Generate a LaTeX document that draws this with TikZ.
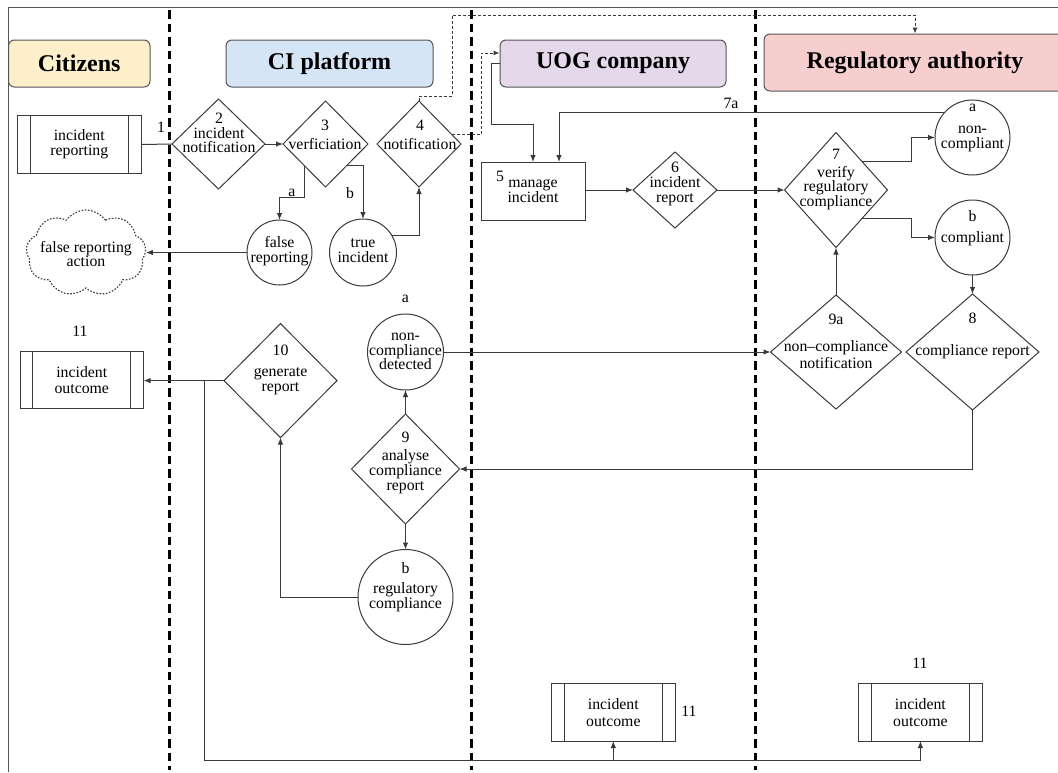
\documentclass[tikz,border=0pt]{standalone}
\usepackage{fontspec}
\setmainfont{Liberation Serif}
\usetikzlibrary{shapes.geometric,shapes.symbols,arrows.meta,calc}

\definecolor{lineC}{HTML}{3A3A3A}
\definecolor{frameC}{HTML}{555555}
\definecolor{citC}{HTML}{FCEFC9}
\definecolor{ciC}{HTML}{D5E5F6}
\definecolor{uogC}{HTML}{E4D8EA}
\definecolor{regC}{HTML}{F6CECE}

\newcommand{\bodyfont}{\fontsize{15.8}{14.8}\selectfont}

\tikzset{
  txt/.style={font=\bodyfont, align=center, inner sep=0pt},
  hdr/.style={draw=frameC, line width=1pt, rounded corners=6pt,
    font=\fontsize{24}{26}\selectfont\bfseries},
  dia/.style={diamond, draw=lineC, line width=1pt, inner sep=0pt, outer sep=0pt},
  circ/.style={circle, draw=lineC, line width=1pt, inner sep=0pt, outer sep=0pt},
  rbox/.style={rectangle, draw=lineC, line width=1pt, inner sep=0pt, outer sep=0pt,
    font=\bodyfont, align=center},
  proc/.style={rbox, minimum width=123.5pt, minimum height=57.5pt,
    path picture={\draw[lineC, line width=1pt]
      ([xshift=12.8pt]path picture bounding box.north west) --
      ([xshift=12.8pt]path picture bounding box.south west)
      ([xshift=-12.8pt]path picture bounding box.north east) --
      ([xshift=-12.8pt]path picture bounding box.south east);}},
  conn/.style={draw=lineC, line width=1pt},
  arr/.style={conn, -{Latex[length=7pt,width=5.5pt]}},
  dsh/.style={draw=lineC, line width=1pt, dash pattern=on 3pt off 2pt,
    -{Latex[length=6pt,width=5pt]}},
  lane/.style={draw=black, line width=3pt, dash pattern=on 8.5pt off 5pt},
}

\begin{document}
\begin{tikzpicture}[x=1pt, y=-1pt]
\useasboundingbox (0,0) rectangle (1058,772);

% outer frame
\draw[frameC, line width=1.2pt] (8.5,772) -- (8.5,7.4) -- (1058,7.4);

% lane separators
\draw[lane] (169,10) -- (169,770);
\draw[lane] (471.5,10) -- (471.5,770);
\draw[lane] (755,10) -- (755,770);

% lane headers
\node[hdr, fill=citC, minimum width=141.5pt, minimum height=47pt] (hc) at (79.25,63.5) {Citizens};
\node[hdr, fill=ciC, minimum width=207pt, minimum height=47pt] (hci) at (329.5,63.5) {CI platform};
\node[hdr, fill=uogC, minimum width=226pt, minimum height=47pt] (hu) at (613,63.5) {UOG company};
\node[hdr, fill=regC, minimum width=302pt, minimum height=57pt] (hr) at (915,62.5) {Regulatory authority};

% ---------- Citizens / CI platform ----------
\node[proc] (b1) at (79.3,144.5) {incident\\reporting};
\node[txt] at (161,127) {1};

\node[dia, minimum width=93pt, minimum height=90pt] (d2) at (218.5,144) {};
\node[txt] at (219,133) {2\\incident\\notification};

\node[dia, minimum width=85pt, minimum height=86pt] (d3) at (325.5,144) {};
\node[txt] at (325,135) {3\\[4pt]verficiation};

\node[dia, minimum width=84pt, minimum height=86pt] (d4) at (419,144) {};
\node[txt] at (420,135) {4\\[4pt]notification};

\node[circ, minimum size=65pt] (fr) at (279.5,252.5) {};
\node[txt] at (279.5,251) {false\\reporting};

\node[circ, minimum size=67pt] (ti) at (363,252.5) {};
\node[txt] at (363,251) {true\\incident};

\node[cloud, cloud puffs=9, cloud puff arc=110, aspect=1.4, draw=lineC, line width=1.1pt,
  dash pattern=on 1.6pt off 1.6pt, inner sep=0pt, minimum width=120pt, minimum height=86pt] (cl) at (86,253) {};
\node[txt] at (86,254) {false reporting\\action};

\node[txt] at (292,193) {a};
\node[txt] at (350,193) {b};

\draw[conn] (b1.east) -- (d2.west);
\draw[arr] (d2.east) -- (d3.west);
\draw[arr] (d3.south west) -- ++(0,32) -| (fr.north);
\draw[arr] (d3.south east) -| (ti.north);
\draw[arr] (ti.30) -| (d4.south);
\draw[arr] (fr.west) -- (fr.west -| cl.east);

% notifications sent onwards
\coordinate (topway) at (0,15);
\draw[dsh] (d4.north) |- (452,96) |- (hr.north |- topway) -- (hr.north);
\draw[dsh] ($(d4.east)!0.21!(d4.north)$) -- ++(29,0) |- ($(hu.west)+(0,-10.5)$);

% ---------- UOG company ----------
\node[rbox, minimum width=104pt, minimum height=58pt] (b5) at (533,191) {manage\\incident};
\node[txt] at (500,176) {5};
\draw[arr] (hu.west) -- ++(-8,0) |- ($(b5.north)+(0,-38)$) -- (b5.north);

\node[dia, minimum width=84pt, minimum height=76pt] (d6) at (675,190) {};
\node[txt] at (675,184) {6\\incident\\report};
\draw[arr] (b5.east |- d6.west) -- (d6.west);

% ---------- Regulatory authority ----------
\node[dia, minimum width=103pt, minimum height=115pt] (d7) at (836,190) {};
\node[txt] at (836,179.5) {7\\[3pt]verify\\regulatory\\compliance};
\draw[arr] (d6.east) -- (d7.west);

\node[circ, minimum size=75pt] (nc) at (972.5,137.5) {};
\node[txt] at (972.5,128) {a\\[7pt]non-\\compliant};
\node[circ, minimum size=75pt] (cp) at (972.5,237.5) {};
\node[txt] at (972.5,228) {b\\[6pt]compliant};

\draw[arr] (d7.north east) -- ++(49.6,0) |- (nc.west);
\draw[arr] (d7.south east) -- ++(49.6,0) |- (cp.west);
\draw[arr] (nc.139) -| ($(b5.north)+(26,0)$);
\node[txt] at (731,103) {7a};

\node[dia, minimum width=133pt, minimum height=116pt] (d8) at (972.5,352) {};
\node[txt] at (972.5,318) {8};
\node[txt] at (972.5,352) {compliance report};
\draw[arr] (cp.south) -- (d8.north);

\node[dia, minimum width=131pt, minimum height=114pt] (d9a) at (836,352) {};
\node[txt] at (836,319) {9a};
\node[txt] at (836,354.5) {non–compliance\\[2pt]notification};
\draw[arr] (d9a.north) -- (d7.south);

% ---------- analysis on the CI platform ----------
\node[circ, minimum size=76pt] (nd) at (405.5,352) {};
\node[txt] at (405.5,351.5) {non-\\compliance\\detected};
\node[txt] at (405.5,299) {a};
\draw[arr] (nd.east) -- (d9a.west);

\node[dia, minimum width=108pt, minimum height=110pt] (d9) at (405.5,469) {};
\node[txt] at (405.5,463) {9\\[3pt]analyse\\compliance\\report};
\draw[arr] (d8.south) |- (d9.east);
\draw[arr] (d9.north) -- (nd.south);

\node[circ, minimum size=95pt] (rc) at (405.5,597) {};
\node[txt] at (405.5,587) {b\\[6pt]regulatory\\compliance};
\draw[arr] (d9.south) -- (rc.north);

\node[dia, minimum width=113pt, minimum height=114pt] (d10) at (280.5,380.6) {};
\node[txt] at (280.5,370) {10\\[6pt]generate\\report};
\draw[arr] (rc.west) -| (d10.south);

% ---------- outcomes ----------
\node[proc] (bco) at (81.8,380) {incident\\[2pt]outcome};
\node[txt] at (80,331) {11};
\node[proc] (buo) at (613.3,712.3) {incident\\[2pt]outcome};
\node[txt] at (689,711) {11};
\node[proc] (bro) at (920.4,712.3) {incident\\[2pt]outcome};
\node[txt] at (920,663) {11};

\draw[arr] (d10.west) -- (d10.west -| bco.east);
\coordinate (split) at (204.5,380.6);
\coordinate (baseY) at (0,760);
\draw[arr] (split) |- (bro.south |- baseY) -- (bro.south);
\draw[arr] (buo.south |- baseY) -- (buo.south);
\end{tikzpicture}
\end{document}
